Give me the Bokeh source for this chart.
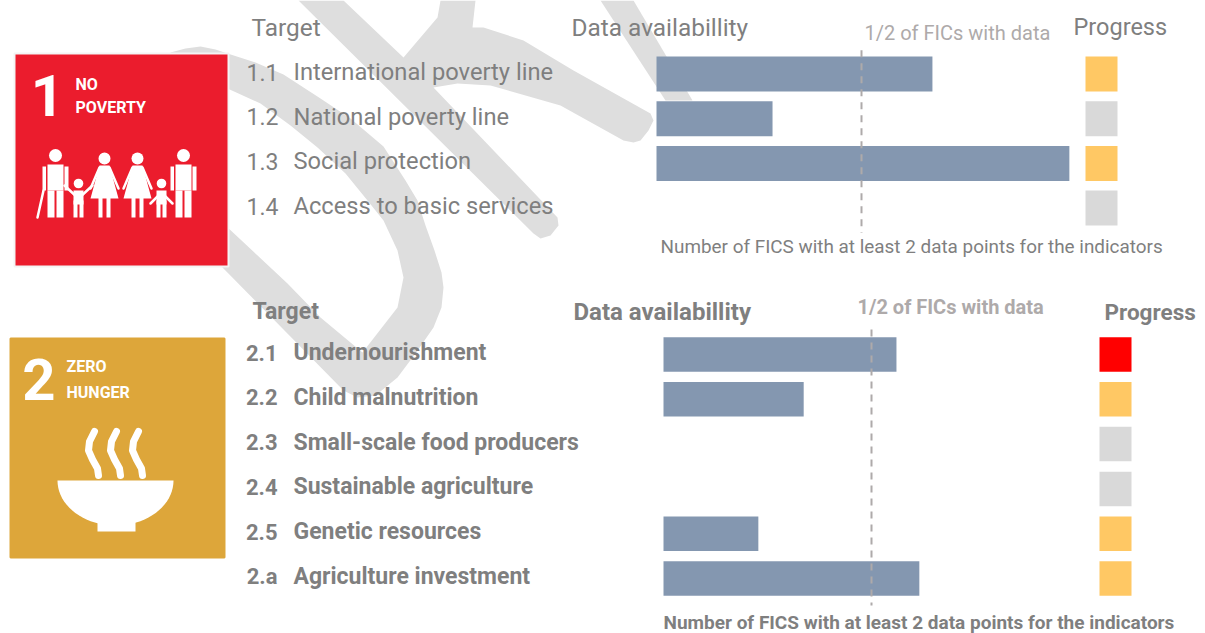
import numpy as np
from bokeh.plotting import figure
from bokeh.models import Range1d
from bokeh.core.properties import value
from bokeh.embed import file_html
from bokeh.resources import INLINE

# ---------- data ----------
targets_1 = ["1.1", "1.2", "1.3", "1.4"]
names_1 = ["International poverty line", "National poverty line", "Social protection", "Access to basic services"]
avail_1 = [67.3, 28.3, 100.7, 0]
progress_1 = ["#ffc864", "#d9d9d9", "#ffc864", "#d9d9d9"]

targets_2 = ["2.1", "2.2", "2.3", "2.4", "2.5", "2.a"]
names_2 = ["Undernourishment", "Child malnutrition", "Small-scale food producers",
           "Sustainable agriculture", "Genetic resources", "Agriculture investment"]
avail_2 = [56.0, 33.7, 0, 0, 22.8, 61.5]
progress_2 = ["#ff0000", "#ffc864", "#d9d9d9", "#d9d9d9", "#ffc864", "#ffc864"]

half_mark = 50
footer = "Number of FICS with at least 2 data points for the indicators"

# ---------- page-pixel canvas ----------
W, H = 1205, 633
X0, Y0 = 0, 0
p = figure(width=W, height=H, output_backend="svg", toolbar_location=None,
           x_range=Range1d(X0, X0 + W), y_range=Range1d(Y0 + H, Y0),
           min_border=0, outline_line_color=None, background_fill_color="white")
p.axis.visible = False
p.grid.visible = False
p.xaxis.visible = False
p.yaxis.visible = False


def x_scale(px0, per_unit):
    return Range1d((X0 - px0) / per_unit, (X0 + W - px0) / per_unit)


def y_scale(px0, per_row):
    return Range1d((Y0 + H - px0) / per_row, (Y0 - px0) / per_row)


p.extra_x_ranges = {"a1": x_scale(656, 4.10), "a2": x_scale(663, 4.16)}
p.extra_y_ranges = {"r1": y_scale(73.5, 44.7), "r2": y_scale(354.0, 44.8)}

# ---------- watermark strokes behind the chart ----------
WM = "#dedede"
wm_xs = [
    [170, 185, 200, 215, 227, 255, 283, 320, 350, 383, 405, 417, 425, 434, 441, 443, 441, 433, 415, 397, 375, 357, 343,
     222, 190, 225, 287, 320, 362, 397, 403, 397, 383, 367, 345, 317, 290, 260, 227, 200, 170],
    [298, 343, 403, 437, 440, 475, 472, 483, 523, 573, 650, 653, 648, 640, 633, 623, 560, 490, 457, 433, 557, 558, 550,
     540, 533],
    [600, 633, 692, 665],
]
wm_ys = [
    [52, 48, 46, 49, 53, 62, 74, 98, 118, 146, 180, 200, 225, 250, 272, 287, 307, 327, 353, 377, 395, 397, 390,
     267, 235, 225, 283, 317, 352, 307, 277, 250, 220, 200, 173, 147, 125, 103, 88, 80, 75],
    [0, 0, 57, 17, 0, 0, 27, 27, 40, 70, 113, 120, 130, 140, 142, 140, 105, 85, 83, 87, 217, 225, 235,
     238, 233],
    [0, 0, 100, 100],
]
p.patches(wm_xs, wm_ys, fill_color=WM, line_color=None)

# ---------- SDG tiles ----------
p.quad(left=[14, 10], right=[228, 224], top=[53, 338], bottom=[266, 557],
       fill_color=["#eb1c2d", "#dda63a"], line_color=["#f4f4f4", "#dda63a"], line_width=2)

F_TILE = value("Roboto")
p.text([47, 38.5], [95, 379], text=["1", "2"], text_color="white", text_font=F_TILE, text_font_style="bold",
       text_font_size="58px", text_baseline="middle", text_align="center")
p.text([75, 75, 66, 66], [84, 107, 366, 392], text=["NO", "POVERTY", "ZERO", "HUNGER"], text_color="white",
       text_font=F_TILE, text_font_style="bold", text_font_size="16px", text_baseline="middle")

# people of tile 1
lft, rgt, top, bot = [], [], [], []
heads_x = [55, 104, 137, 183, 78, 161]
heads_y = [155, 158, 158, 155, 183, 183]
heads_r = [6.5, 6, 6, 6.5, 4.8, 4.8]
p.circle(heads_x, heads_y, radius=heads_r, fill_color="white", line_color=None)
for cx in (55, 183):  # adults
    lft += [cx - 8, cx - 8, cx + 1, cx - 13, cx + 9]
    rgt += [cx + 8, cx - 1, cx + 8, cx - 9.5, cx + 13]
    top += [164, 190, 190, 166, 166]
    bot += [190, 217, 217, 190, 190]
for cx in (104, 137):  # legs of women
    lft += [cx - 6, cx + 2]
    rgt += [cx - 2, cx + 6]
    top += [196, 196]
    bot += [217, 217]
for cx in (78, 161):  # children
    lft += [cx - 5, cx - 5, cx + 1]
    rgt += [cx + 5, cx - 1, cx + 5]
    top += [190, 200, 200]
    bot += [204, 217, 217]
p.quad(left=lft, right=rgt, top=top, bottom=bot, fill_color="white", line_color=None)
p.patches([[99, 109, 118, 90], [132, 142, 151, 123]], [[165, 165, 198, 198]] * 2, fill_color="white", line_color=None)
p.multi_line(
    [[37, 43], [64, 78], [92, 78], [99, 90], [109, 118], [132, 123], [142, 151], [150, 161], [172, 161]],
    [[217, 190], [185, 198], [185, 198], [167, 188], [167, 188], [167, 188], [167, 188], [203, 192], [203, 192]],
    line_color="white", line_width=2.5, line_cap="round")

# bowl of tile 2
t = np.linspace(0, np.pi, 40)
bx = list(115 + 58 * np.cos(t))
by = list(480 + 45 * np.sin(t))
p.patch(bx, by, fill_color="white", line_color=None)
p.quad(left=[97], right=[135], top=[515], bottom=[531], fill_color="white", line_color=None)
sx = [94, 89, 88, 92, 97, 98]
sy = [431, 441, 450, 459, 468, 475]
p.multi_line([[v + d for v in sx] for d in (0, 22, 44)], [sy] * 3, line_color="white", line_width=7,
             line_cap="round", line_join="round")

# ---------- bars ----------
BAR = "#8497b0"
p.hbar(y=list(range(len(avail_1))), left=0, right=avail_1, height=35 / 44.7, fill_color=BAR, line_color=None,
       x_range_name="a1", y_range_name="r1")
p.hbar(y=list(range(len(avail_2))), left=0, right=avail_2, height=34.5 / 44.8, fill_color=BAR, line_color=None,
       x_range_name="a2", y_range_name="r2")

# half-way lines
GUIDE = "#aeaaaa"
p.line([half_mark, half_mark], [-0.53, 3.55], x_range_name="a1", y_range_name="r1", line_color=GUIDE, line_width=2,
       line_dash="7 6")
p.line([half_mark, half_mark], [-0.56, 5.6], x_range_name="a2", y_range_name="r2", line_color=GUIDE, line_width=2,
       line_dash="7 6")

# progress squares
p.rect([1101] * 4, list(range(4)), width=32, height=35 / 44.7, fill_color=progress_1, line_color=None,
       y_range_name="r1")
p.rect([1115] * 6, list(range(6)), width=32, height=34.5 / 44.8, fill_color=progress_2, line_color=None,
       y_range_name="r2")

# ---------- texts ----------
INK = "#7f7f7f"
F1 = value("Roboto")
F2 = value("Roboto")

p.text([278] * 4, list(range(4)), text=targets_1, text_align="right", text_baseline="middle", text_color=INK,
       text_font=F1, text_font_size="23px", y_offset=-2, y_range_name="r1")
p.text([293] * 4, list(range(4)), text=names_1, text_baseline="middle", text_color=INK,
       text_font=F1, text_font_size="23.7px", y_offset=-2, y_range_name="r1")
p.text([277] * 6, list(range(6)), text=targets_2, text_align="right", text_baseline="middle", text_color=INK,
       text_font=F2, text_font_style="bold", text_font_size="22px", y_offset=-2, y_range_name="r2")
p.text([293] * 6, list(range(6)), text=names_2, text_baseline="middle", text_color=INK,
       text_font=F2, text_font_style="bold", text_font_size="23px", y_offset=-2, y_range_name="r2")

p.text([251, 571], [27, 27], text=["Target", "Data availabillity"], text_baseline="middle",
       text_color=INK, text_font=F1, text_font_size="24.4px")
p.text([1073], [26], text=["Progress"], text_baseline="middle",
       text_color=INK, text_font=F1, text_font_size="23.5px")
p.text([864], [32], text=["1/2 of FICs with data"], text_baseline="middle", text_color=GUIDE, text_font=F1,
       text_font_size="20px")
p.text([660], [246], text=[footer], text_baseline="middle", text_color=INK, text_font=F1, text_font_size="18.9px")

p.text([252, 573, 1104], [311, 311, 311], text=["Target", "Data availabillity", "Progress"], text_baseline="middle",
       text_color=INK, text_font=F2, text_font_style="bold", text_font_size=["23px", "24px", "22.5px"])
p.text([857], [306], text=["1/2 of FICs with data"], text_baseline="middle", text_color=GUIDE, text_font=F2,
       text_font_style="bold", text_font_size="20px")
p.text([663], [622], text=[footer], text_baseline="middle", text_color=INK, text_font=F2, text_font_style="bold",
       text_font_size="19px")

open("out.html", "w").write(file_html(p, INLINE))
